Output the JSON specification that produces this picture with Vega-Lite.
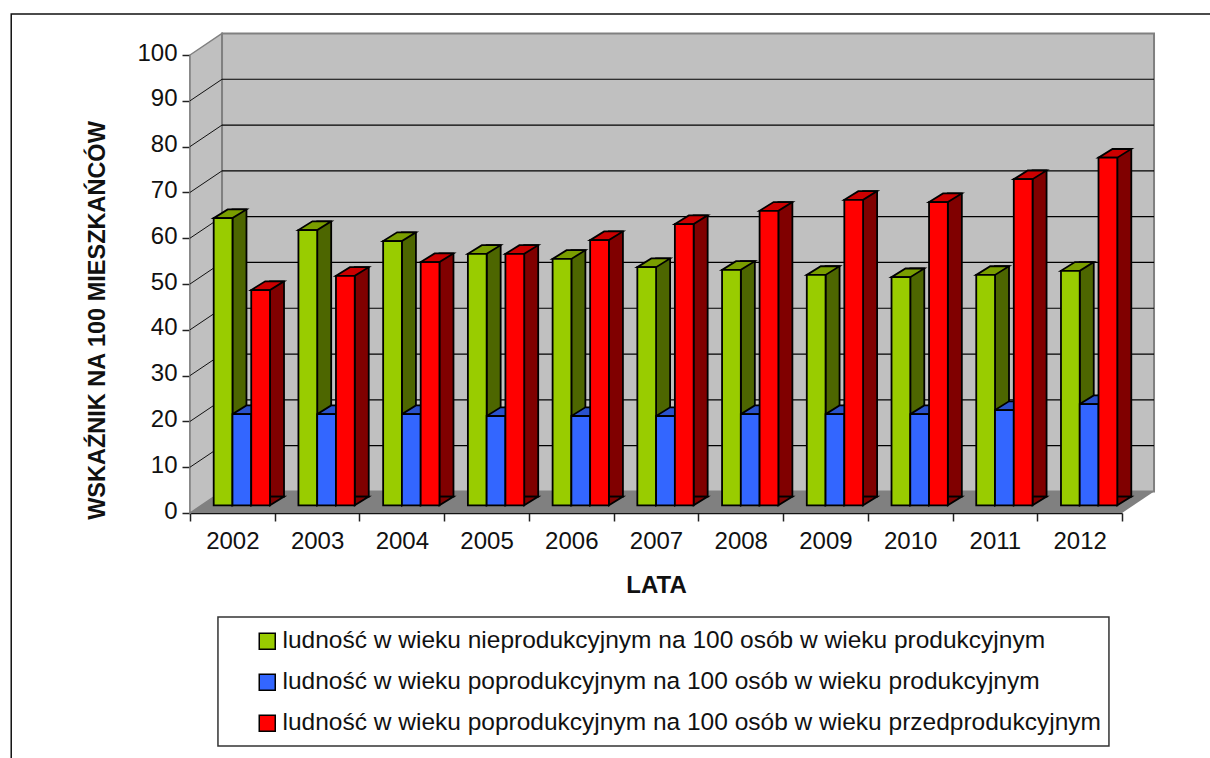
{
"$schema":"https://vega.github.io/schema/vega-lite/v6.json",
"width":932,"height":458,
"autosize":"none",
"padding":{"left":190,"top":55,"right":88,"bottom":245},
"background":"white",
"config":{"view":{"stroke":null},
 "axis":{"zindex":1,"labelFont":"Liberation Sans","titleFont":"Liberation Sans","labelFontSize":24,"labelColor":"#111","titleFontSize":23.5,"titleFontWeight":"bold","titleColor":"#111","grid":false,"tickSize":8,"tickColor":"#222","tickWidth":1.5},
 "axisY":{"domainColor":"#444","domainWidth":2,"values":[0,10,20,30,40,50,60,70,80,90,100],"labelPadding":5,"labelOffset":-2,"titleX":-93,"titleY":265,"titleAngle":-90,"titleAlign":"center","titleBaseline":"middle"},
 "axisX":{"domainColor":"#111","domainWidth":1.5,"labelPadding":8,"titlePadding":20,"titleFontSize":24}
},
"datasets":{
 "bars":[
{"year":"2002","series":"A","value":62.7},{"year":"2003","series":"A","value":60.1},{"year":"2004","series":"A","value":57.7},{"year":"2005","series":"A","value":54.9},{"year":"2006","series":"A","value":53.8},{"year":"2007","series":"A","value":52.0},{"year":"2008","series":"A","value":51.4},{"year":"2009","series":"A","value":50.3},{"year":"2010","series":"A","value":49.8},{"year":"2011","series":"A","value":50.3},{"year":"2012","series":"A","value":51.2},
{"year":"2002","series":"B","value":19.9},{"year":"2003","series":"B","value":19.9},{"year":"2004","series":"B","value":19.9},{"year":"2005","series":"B","value":19.5},{"year":"2006","series":"B","value":19.5},{"year":"2007","series":"B","value":19.5},{"year":"2008","series":"B","value":19.9},{"year":"2009","series":"B","value":19.9},{"year":"2010","series":"B","value":19.9},{"year":"2011","series":"B","value":20.8},{"year":"2012","series":"B","value":22.1},
{"year":"2002","series":"C","value":47.0},{"year":"2003","series":"C","value":50.1},{"year":"2004","series":"C","value":53.1},{"year":"2005","series":"C","value":54.9},{"year":"2006","series":"C","value":57.9},{"year":"2007","series":"C","value":61.4},{"year":"2008","series":"C","value":64.3},{"year":"2009","series":"C","value":66.7},{"year":"2010","series":"C","value":66.2},{"year":"2011","series":"C","value":71.2},{"year":"2012","series":"C","value":75.9}
 ],
 "grid":[
{"v":10,"yb":14.7,"x0":0,"xb":0.378,"xe":11.378},{"v":20,"yb":24.7,"x0":0,"xb":0.378,"xe":11.378},{"v":30,"yb":34.7,"x0":0,"xb":0.378,"xe":11.378},{"v":40,"yb":44.7,"x0":0,"xb":0.378,"xe":11.378},{"v":50,"yb":54.7,"x0":0,"xb":0.378,"xe":11.378},{"v":60,"yb":64.7,"x0":0,"xb":0.378,"xe":11.378},{"v":70,"yb":74.7,"x0":0,"xb":0.378,"xe":11.378},{"v":80,"yb":84.7,"x0":0,"xb":0.378,"xe":11.378},{"v":90,"yb":94.7,"x0":0,"xb":0.378,"xe":11.378}
 ]
},
"resolve":{"scale":{"x":"independent"}},
"layer":[
{"layer":[
 {"data":{"values":[{"x":-2.11,"x2":12.2,"y":108.95,"y2":-60}]},
  "mark":{"type":"rect","fill":null,"stroke":"#111","strokeWidth":1.5},
  "encoding":{
   "x":{"field":"x","type":"quantitative","scale":{"domain":[0,11],"nice":false,"zero":false},"axis":null},"x2":{"field":"x2"},
   "y":{"field":"y","type":"quantitative","scale":{"domain":[0,100],"nice":false},"title":"WSKAŹNIK NA 100 MIESZKAŃCÓW"},"y2":{"field":"y2"}}},
 {"data":{"values":[{"x":0,"y":100,"y2":0},{"x":0.378,"y":104.7,"y2":4.7}]},
  "mark":{"type":"area","fill":"#C0C0C0","stroke":"#808080","strokeWidth":1.5},
  "encoding":{"x":{"field":"x","type":"quantitative","axis":null},"y":{"field":"y","type":"quantitative","stack":null,"title":"WSKAŹNIK NA 100 MIESZKAŃCÓW"},"y2":{"field":"y2"}}},
 {"data":{"values":[{"x":0.378,"x2":11.378,"y":104.7,"y2":4.7}]},
  "mark":{"type":"rect","fill":"#C0C0C0","stroke":"#808080","strokeWidth":2},
  "encoding":{"x":{"field":"x","type":"quantitative","axis":null},"x2":{"field":"x2"},"y":{"field":"y","type":"quantitative","title":"WSKAŹNIK NA 100 MIESZKAŃCÓW"},"y2":{"field":"y2"}}},
 {"data":{"name":"grid"},
  "mark":{"type":"rule","stroke":"#000","strokeWidth":1.2},
  "encoding":{"x":{"field":"xb","type":"quantitative","axis":null},"x2":{"field":"xe"},"y":{"field":"yb","type":"quantitative","title":"WSKAŹNIK NA 100 MIESZKAŃCÓW"}}},
 {"data":{"name":"grid"},
  "mark":{"type":"rule","stroke":"#111","strokeWidth":1},
  "encoding":{"x":{"field":"x0","type":"quantitative","axis":null},"x2":{"field":"xb"},"y":{"field":"v","type":"quantitative","title":"WSKAŹNIK NA 100 MIESZKAŃCÓW"},"y2":{"field":"yb"}}},
 {"data":{"values":[{"x":0,"y":0,"y2":0},{"x":0.378,"y":4.7,"y2":0},{"x":11,"y":4.7,"y2":0},{"x":11.378,"y":4.7,"y2":4.7}]},
  "mark":{"type":"area","fill":"#808080"},
  "encoding":{"x":{"field":"x","type":"quantitative","axis":null},"y":{"field":"y","type":"quantitative","stack":null,"title":"WSKAŹNIK NA 100 MIESZKAŃCÓW"},"y2":{"field":"y2"}}},
 {"data":{"values":[{"x":0.33,"x2":10.846,"y":-22.7,"y2":-50.9}]},
  "mark":{"type":"rect","fill":"white","stroke":"#333","strokeWidth":1.5},
  "encoding":{"x":{"field":"x","type":"quantitative","axis":null},"x2":{"field":"x2"},"y":{"field":"y","type":"quantitative","title":"WSKAŹNIK NA 100 MIESZKAŃCÓW"},"y2":{"field":"y2"}}}
]},
{"data":{"name":"bars"},
 "encoding":{
  "x":{"field":"year","type":"nominal","scale":{"paddingInner":0,"paddingOuter":0,"round":false},"axis":{"title":"LATA","tickBand":"extent","labelAngle":0}},
  "y":{"field":"value","type":"quantitative","stack":null,"title":"WSKAŹNIK NA 100 MIESZKAŃCÓW"}
 },
 "resolve":{"scale":{"color":"independent","xOffset":"independent"}},
 "layer":[
 {"mark":{"type":"bar","width":14,"yOffset":-16.4,"stroke":"black","strokeWidth":1.8},
  "encoding":{"xOffset":{"field":"series","type":"nominal","scale":{"domain":["A","B","C"],"range":[40.08,96.4],"paddingInner":0,"paddingOuter":0,"round":false}},
   "y2":{"datum":3.58},
   "color":{"field":"series","type":"nominal","scale":{"domain":["A","B","C"],"range":["#4D6600","#1F3D99","#800000"]},"legend":null}}},
 {"mark":{"type":"point","filled":true,"opacity":1,"size":4,"yOffset":-7.7,"stroke":"black","strokeWidth":1.8,"shape":"M9.4,0L23.4,-8.7L9.4,-8.7Z"},
  "encoding":{"xOffset":{"field":"series","type":"nominal","scale":{"domain":["A","B","C"],"range":[33.08,70.62],"padding":0,"round":false}},
   "y":{"datum":0,"type":"quantitative"},"color":{"field":"series","type":"nominal","scale":{"domain":["A","B","C"],"range":["#4D6600","#1F3D99","#800000"]},"legend":null}}},
 {"mark":{"type":"point","filled":true,"opacity":1,"size":4,"yOffset":-7.7,"stroke":"black","strokeWidth":1.8,"shape":"M-9.4,0L9.4,0L23.4,-8.7L4.6,-8.7Z"},
  "encoding":{"xOffset":{"field":"series","type":"nominal","scale":{"domain":["A","B","C"],"range":[33.08,70.62],"padding":0,"round":false}},
   "color":{"field":"series","type":"nominal","scale":{"domain":["A","B","C"],"range":["#7A9E00","#2A52CC","#CC0000"]},"legend":null}}},
 {"mark":{"type":"bar","yOffset":-7.7,"stroke":"black","strokeWidth":1.8},
  "encoding":{"xOffset":{"field":"series","type":"nominal","scale":{"domain":["A","B","C"],"range":[23.7,80],"paddingInner":0,"paddingOuter":0,"round":false}},
   "y2":{"datum":1.68},
   "color":{"field":"series","type":"nominal","scale":{"domain":["A","B","C"],"range":["#99CC00","#3366FF","#FF0000"]},
   "legend":{"orient":"none","legendX":65,"legendY":574,"title":null,"padding":0,"symbolType":"square","symbolSize":256,"symbolStrokeColor":"black","symbolStrokeWidth":1.5,"labelFont":"Liberation Sans","labelFontSize":24.5,"labelColor":"#111","labelLimit":1000,"labelOffset":3,"rowPadding":16,
    "labelExpr":"{'A':'ludność w wieku nieprodukcyjnym na 100 osób w wieku produkcyjnym','B':'ludność w wieku poprodukcyjnym na 100 osób w wieku produkcyjnym','C':'ludność w wieku poprodukcyjnym na 100 osób w wieku przedprodukcyjnym'}[datum.label]"}}}}
 ]}
]
}
